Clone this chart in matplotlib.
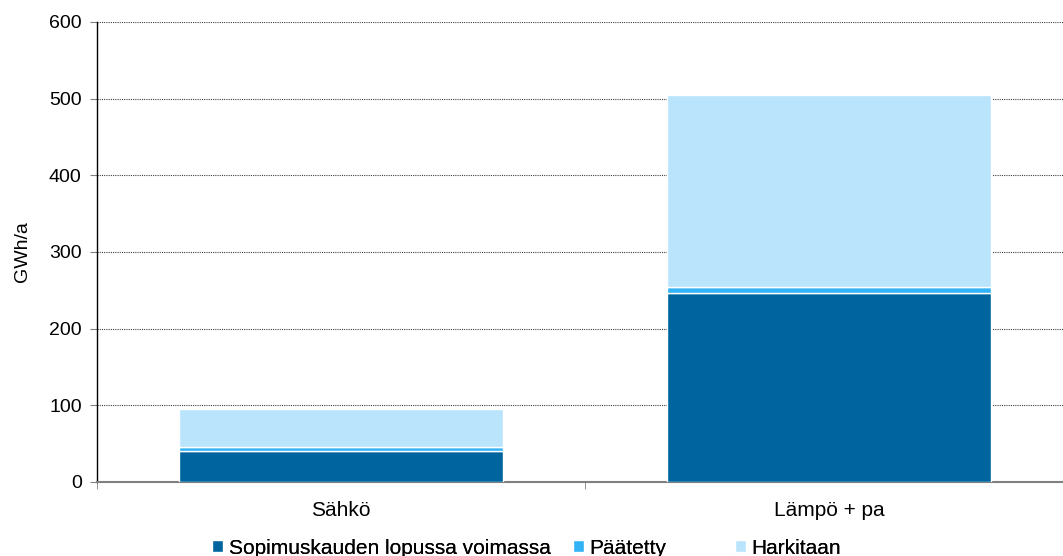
import matplotlib
matplotlib.use("Agg")
import matplotlib.pyplot as plt
import numpy as np

plt.rcParams['font.family'] = ['Liberation Sans', 'DejaVu Sans']

categories = ["Sähkö", "Lämpö + pa"]
series_names = ["Sopimuskauden lopussa voimassa", "Päätetty", "Harkitaan"]
voimassa = [41, 246]
paatetty = [5, 9]
harkitaan = [49, 250]
colors = ["#00659E", "#33B2F5", "#B9E4FB"]
yticks = [0, 100, 200, 300, 400, 500, 600]

W, H = 1063, 556
fig = plt.figure(figsize=(W/100, H/100), dpi=100)
ax = fig.add_axes([97/W, 1 - 482/H, (W - 97)/W, 460/H])

x = np.arange(len(categories))
bottom = np.zeros(len(categories))
handles = []
for vals, name, c in zip([voimassa, paatetty, harkitaan], series_names, colors):
    b = ax.bar(x, vals, width=0.664, bottom=bottom, color=c, edgecolor="white",
               linewidth=1.0, label=name, zorder=3)
    handles.append(b)
    bottom += np.array(vals)

ax.set_yticks(yticks)
ax.set_xticks(x)
ax.set_xticklabels(categories, fontsize=15)
ax.set_xticks([-0.5, 0.5, 1.5], minor=True)
ax.set_xlim(-0.5, -0.5 + 966/488)
ax.set_ylim(0, 600)
ax.tick_params(axis='x', which='major', length=0, pad=14)
ax.tick_params(axis='x', which='minor', length=5, color='#808080')
ax.tick_params(axis='y', labelsize=14, length=5, direction='out', color='#808080', pad=6)
ax.yaxis.grid(True, linestyle=(0, (1, 1)), color='#404040', linewidth=0.8, zorder=0)
ax.set_axisbelow(True)
for s in ['top', 'right']:
    ax.spines[s].set_visible(False)
ax.spines['left'].set_color('black')
ax.spines['left'].set_linewidth(1.0)
ax.spines['bottom'].set_color('#808080')
ax.spines['bottom'].set_linewidth(1.5)
ax.set_ylabel("GWh/a", fontsize=14, labelpad=13)

# legend entries placed individually (Excel-style spacing)
legend_x = [212, 573, 735]
for h, name, lx in zip(handles, series_names, legend_x):
    lg = fig.legend([h], [name], loc='center left', bbox_to_anchor=(lx/W, 1 - 548/H),
                    frameon=False, fontsize=15, handlelength=0.55, handleheight=0.55,
                    handletextpad=0.25, borderpad=0, borderaxespad=0)
    fig.add_artist(lg)

fig.savefig("out.png", dpi=100)
